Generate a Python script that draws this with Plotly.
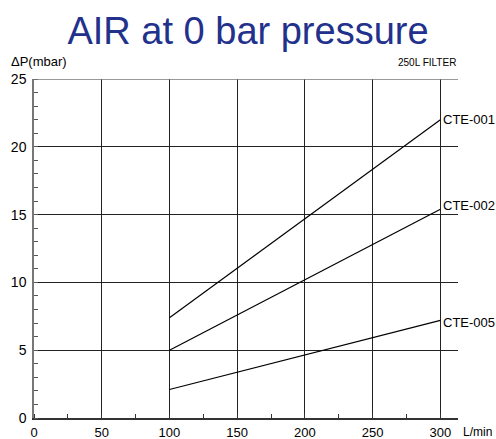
import plotly.graph_objects as go

flow = [100, 300]
series = {
    "CTE-001": [7.4, 22.0],
    "CTE-002": [5.0, 15.4],
    "CTE-005": [2.1, 7.2],
}
x_ticks = [0, 50, 100, 150, 200, 250, 300]
y_ticks = [0, 5, 10, 15, 20, 25]

# label vertical nudges (pixels), style only
label_shift = {"CTE-001": 0, "CTE-002": 4, "CTE-005": -2}

fig = go.Figure()
for name, vals in series.items():
    fig.add_trace(go.Scatter(x=flow, y=vals, mode="lines", name=name,
                             line=dict(color="black", width=1.2), showlegend=False))
    fig.add_annotation(x=flow[-1], y=vals[-1], text=name, showarrow=False,
                       xanchor="left", yanchor="middle", xshift=1, yshift=label_shift[name],
                       font=dict(size=13, color="black"))

font_family = "Liberation Sans, Arial, sans-serif"
fig.update_layout(
    width=496, height=439,
    margin=dict(l=34, r=38, t=79, b=21),
    paper_bgcolor="white", plot_bgcolor="white",
    font=dict(family=font_family, color="black"),
    title=dict(text="AIR at 0 bar pressure", x=0.5, xanchor="center", y=0.931, yanchor="middle",
               font=dict(size=38, color="#22318c", family=font_family)),
    xaxis=dict(range=[0, 313], tickvals=x_ticks, showgrid=True, gridcolor="#222", gridwidth=1,
               showline=True, linecolor="#333", linewidth=1.5, zeroline=False, automargin=False,
               ticks="", tickfont=dict(size=13), ticklabelstandoff=2,
               minor=dict(ticks="inside", dtick=25, tick0=0, ticklen=4, tickcolor="#333", showgrid=False)),
    yaxis=dict(range=[0, 25], tickvals=y_ticks, showgrid=True, gridcolor="#222", gridwidth=1,
               showline=True, linecolor="#777", linewidth=1.5, zeroline=False, automargin=False,
               ticks="", tickfont=dict(size=14), ticklabelstandoff=3,
               minor=dict(ticks="inside", dtick=1, tick0=0, ticklen=4, tickcolor="#555", showgrid=False)),
)
# top border
fig.add_shape(type="line", xref="paper", yref="y", x0=0, x1=1, y0=25, y1=25,
              line=dict(color="#777", width=1.5))

fig.add_annotation(xref="paper", yref="paper", x=-0.059, y=1.0, yshift=8, text="ΔP(mbar)", showarrow=False,
                   xanchor="left", yanchor="bottom", font=dict(size=13))
fig.add_annotation(xref="paper", yref="paper", x=1.0, y=1.0, yshift=9, text="250L FILTER", showarrow=False,
                   xanchor="right", yanchor="bottom", font=dict(size=10))
fig.add_annotation(xref="x", yref="paper", x=300, y=0, yshift=-14, xshift=21, text="L/min",
                   showarrow=False, xanchor="left", yanchor="middle", font=dict(size=12))

fig.write_html("out.html", config={"displayModeBar": False},
               post_script="document.body.style.margin='0';document.body.style.overflow='hidden';")
